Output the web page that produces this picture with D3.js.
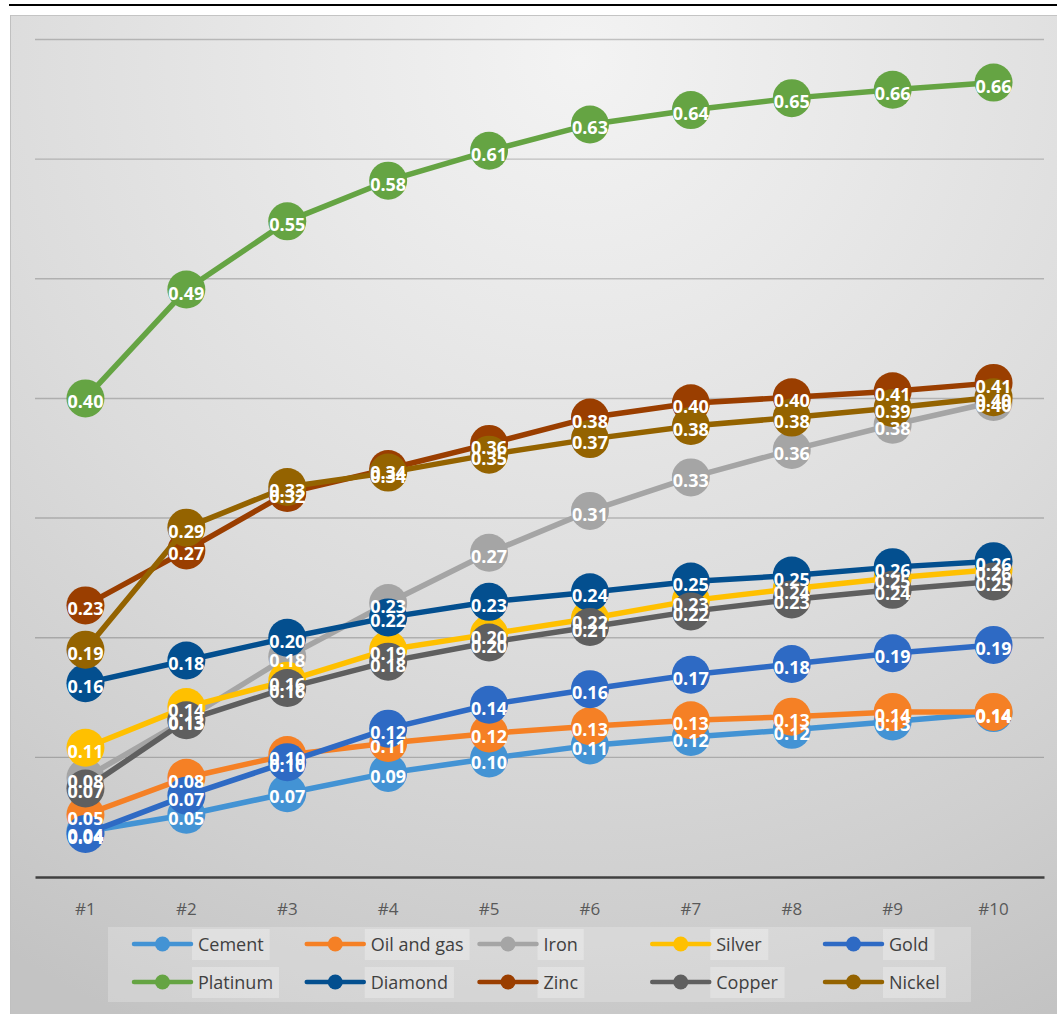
<!DOCTYPE html>
<html>
<head>
<meta charset="utf-8">
<script src="https://cdn.jsdelivr.net/npm/d3@7"></script>
<style>
  html, body { margin: 0; padding: 0; background: #ffffff; }
  svg { display: block; }
</style>
</head>
<body>
<svg id="chart" width="1057" height="1014"></svg>
<script>
const categories = ["#1", "#2", "#3", "#4", "#5", "#6", "#7", "#8", "#9", "#10"];
const seriesNames = ["Cement", "Oil and gas", "Iron", "Silver", "Gold", "Platinum", "Diamond", "Zinc", "Copper", "Nickel"];
const seriesColors = ["#4393D4", "#F58025", "#A5A5A5", "#FFC000", "#2E6AC4", "#65A443", "#034F8F", "#9A3E00", "#5F5F5F", "#946300"];

const cement   = [0.038, 0.052, 0.070, 0.087, 0.099, 0.110, 0.117, 0.123, 0.130, 0.137];
const oilGas   = [0.052, 0.083, 0.102, 0.112, 0.120, 0.126, 0.131, 0.134, 0.138, 0.138];
const iron     = [0.083, 0.132, 0.184, 0.229, 0.271, 0.306, 0.334, 0.357, 0.378, 0.397];
const silver   = [0.108, 0.142, 0.164, 0.190, 0.203, 0.216, 0.231, 0.241, 0.250, 0.257];
const gold     = [0.036, 0.068, 0.096, 0.124, 0.144, 0.157, 0.169, 0.178, 0.187, 0.194];
const platinum = [0.400, 0.491, 0.548, 0.582, 0.607, 0.629, 0.641, 0.651, 0.658, 0.664];
const diamond  = [0.162, 0.181, 0.200, 0.217, 0.230, 0.238, 0.247, 0.252, 0.259, 0.264];
const zinc     = [0.227, 0.273, 0.321, 0.341, 0.362, 0.384, 0.396, 0.401, 0.406, 0.413];
const copper   = [0.074, 0.131, 0.158, 0.180, 0.196, 0.209, 0.222, 0.232, 0.240, 0.247];
const nickel   = [0.190, 0.292, 0.326, 0.338, 0.353, 0.366, 0.377, 0.384, 0.392, 0.401];

const gridTicks = [0.1, 0.2, 0.3, 0.4, 0.5, 0.6, 0.7];

const seriesValues = [cement, oilGas, iron, silver, gold, platinum, diamond, zinc, copper, nickel];
const series = seriesNames.map((name, i) => ({ name, color: seriesColors[i], values: seriesValues[i] }));

const svg = d3.select("#chart");
const W = 1057, H = 1014;

// background
const defs = svg.append("defs");
const rg = defs.append("radialGradient").attr("id", "bg")
  .attr("gradientUnits", "userSpaceOnUse")
  .attr("cx", 580).attr("cy", 60).attr("r", 1060);
[[0, "#f3f3f3"], [0.25, "#e9e9e9"], [0.55, "#dcdcdc"], [0.8, "#cfcfcf"], [1, "#c3c3c3"]]
  .forEach(([o, c]) => rg.append("stop").attr("offset", o).attr("stop-color", c));

svg.append("rect").attr("x", 0).attr("y", 0).attr("width", W).attr("height", H).attr("fill", "#ffffff");
svg.append("rect").attr("x", 10).attr("y", 15).attr("width", W - 10).attr("height", H - 15).attr("fill", "url(#bg)");
svg.append("line").attr("x1", 10).attr("x2", W).attr("y1", 15.5).attr("y2", 15.5).attr("stroke", "#c4c4c4").attr("stroke-width", 1);
svg.append("line").attr("x1", 10.5).attr("x2", 10.5).attr("y1", 15).attr("y2", H).attr("stroke", "#c0c0c0").attr("stroke-width", 1);
svg.append("line").attr("x1", 9).attr("x2", W).attr("y1", 5).attr("y2", 5).attr("stroke", "#000").attr("stroke-width", 2);

// scales
const x = d3.scaleBand().domain(categories).range([35, 1044]).paddingInner(0).paddingOuter(0);
const cx = c => x(c) + x.bandwidth() / 2;
const y = d3.scaleLinear().domain([0, 0.7]).range([877, 39.5]);

// gridlines
svg.append("g").selectAll("line").data(gridTicks).join("line")
  .attr("x1", 35).attr("x2", 1044)
  .attr("y1", d => y(d)).attr("y2", d => y(d))
  .attr("stroke", "#000").attr("stroke-opacity", 0.2).attr("stroke-width", 1.4);

// x axis
const xAxis = svg.append("g").attr("transform", `translate(0,${y(0)})`)
  .call(d3.axisBottom(x).tickSize(0).tickPadding(0));
xAxis.select(".domain").attr("stroke", "#404040").attr("stroke-width", 2.6);
xAxis.selectAll(".tick text")
  .attr("y", 38).attr("dy", 0)
  .attr("fill", "#595959")
  .attr("font-family", "'Open Sans', sans-serif")
  .attr("font-size", 17);

// lines + markers
const line = d3.line().x((d, i) => cx(categories[i])).y(d => y(d));
const sg = svg.append("g");
series.forEach(s => {
  const g = sg.append("g");
  g.append("path").datum(s.values).attr("d", line)
    .attr("fill", "none").attr("stroke", s.color).attr("stroke-width", 5.5)
    .attr("stroke-linejoin", "round").attr("stroke-linecap", "round");
  g.selectAll("circle").data(s.values).join("circle")
    .attr("cx", (d, i) => cx(categories[i])).attr("cy", d => y(d))
    .attr("r", 19).attr("fill", s.color);
});

// labels
const fmt = d3.format(".2f");
const lg = svg.append("g");
series.forEach(s => {
  lg.append("g").selectAll("text").data(s.values).join("text")
    .attr("x", (d, i) => cx(categories[i])).attr("y", d => y(d) + 10)
    .attr("text-anchor", "middle")
    .attr("fill", "#ffffff")
    .attr("font-family", "'Open Sans', sans-serif")
    .attr("font-weight", 700)
    .attr("font-size", 18)
    .text(d => fmt(d));
});

// legend
const legend = svg.append("g");
legend.append("rect").attr("x", 108).attr("y", 927).attr("width", 863).attr("height", 75)
  .attr("fill", "#ffffff").attr("fill-opacity", 0.22);
const colStart = 134, colStep = 172.75, rowY = [944, 982];
series.forEach((s, i) => {
  const col = i % 5, row = Math.floor(i / 5);
  const lx = colStart + col * colStep, ly = rowY[row];
  const g = legend.append("g");
  const tr = g.append("rect").attr("fill", "#ffffff").attr("fill-opacity", 0.28);
  g.append("line").attr("x1", lx).attr("x2", lx + 57).attr("y1", ly).attr("y2", ly)
    .attr("stroke", s.color).attr("stroke-width", 4.5).attr("stroke-linecap", "round");
  g.append("circle").attr("cx", lx + 28.5).attr("cy", ly).attr("r", 7.5).attr("fill", s.color);
  const t = g.append("text").attr("x", lx + 64).attr("y", ly + 6.5)
    .attr("fill", "#404040")
    .attr("font-family", "'Open Sans', sans-serif")
    .attr("font-size", 18)
    .text(s.name);
  const bb = t.node().getBBox();
  tr.attr("x", lx + 58).attr("y", ly - 15).attr("width", bb.width + 12).attr("height", 31);
});
</script>
</body>
</html>
